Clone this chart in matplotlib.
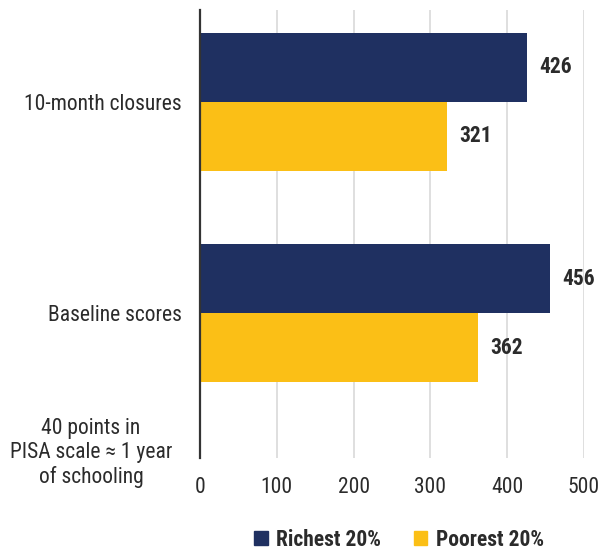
import matplotlib
matplotlib.use("Agg")
import matplotlib.pyplot as plt
import numpy as np
from matplotlib.patches import Patch

plt.rcParams['font.family'] = ['Roboto Condensed', 'Liberation Sans Narrow', 'Roboto', 'DejaVu Sans']

categories = ["10-month closures", "Baseline scores"]
richest = [426, 456]
poorest = [321, 362]
series_names = ["Richest 20%", "Poorest 20%"]
note_label = "40 points in\nPISA scale \u2248 1 year\nof schooling"
xticks = [0, 100, 200, 300, 400, 500]

navy = "#1F3061"
yellow = "#FBBF16"
text_col = "#2b2b2b"
fs = 15.5

fig = plt.figure(figsize=(6.03, 5.5), dpi=100)
ax = fig.add_axes([200/603, 1-458/550, 384/603, 448/550])

y = np.arange(len(categories))
h = 0.326
ax.barh(y - h/2, richest, height=h, color=navy, zorder=3)
ax.barh(y + h/2, poorest, height=h, color=yellow, zorder=3)

for yi, v in zip(y - h/2, richest):
    ax.annotate(str(v), (v, yi), xytext=(9, 0), textcoords="offset points",
                va="center", ha="left", fontsize=fs, fontweight="bold", color=text_col)
for yi, v in zip(y + h/2, poorest):
    ax.annotate(str(v), (v, yi), xytext=(9, 0), textcoords="offset points",
                va="center", ha="left", fontsize=fs, fontweight="bold", color=text_col)

ax.set_xlim(0, 500)
ax.set_ylim(1.685, -0.434)
ax.set_yticks(y)
ax.set_yticklabels(categories)
ax.set_xticks(xticks)
ax.set_xticklabels([str(t) for t in xticks])
ax.tick_params(axis="both", length=0, labelsize=fs, colors=text_col)
ax.tick_params(axis="y", pad=13)
ax.tick_params(axis="x", pad=14)

ax.grid(axis="x", color="#d9d9d9", linewidth=1.2, zorder=0)
for s in ["top", "right", "bottom"]:
    ax.spines[s].set_visible(False)
ax.spines["left"].set_color("#333333")
ax.spines["left"].set_linewidth(1.6)
ax.spines["left"].set_zorder(4)

fig.text(91/603, 1-453/550, note_label, ha="center", va="center",
         multialignment="center", fontsize=fs, color=text_col, linespacing=1.2)

handles = [Patch(color=navy), Patch(color=yellow)]
leg = fig.legend(handles, series_names, loc="center", bbox_to_anchor=(399/603, 1-540/550),
                 ncol=2, frameon=False, handlelength=0.62, handleheight=0.62,
                 handletextpad=0.4, columnspacing=1.5,
                 prop={"size": fs, "weight": "bold"})
for t in leg.get_texts():
    t.set_color(text_col)

fig.savefig("out.png", dpi=100)
